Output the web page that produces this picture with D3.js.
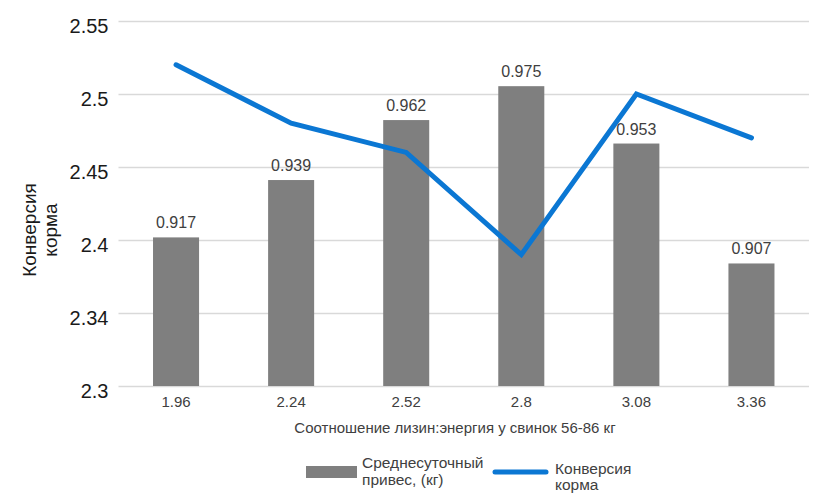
<!DOCTYPE html>
<html>
<head>
<meta charset="utf-8">
<script src="https://cdn.jsdelivr.net/npm/d3@7"></script>
<style>
    body { margin: 0; background: #fff; }
    text { font-family: "Liberation Sans", Arial, sans-serif; }
</style>
</head>
<body>
<svg id="chart"></svg>
<script>
// categories (lysine:energy ratio)
var categories = ["1.96", "2.24", "2.52", "2.8", "3.08", "3.36"];
// average daily gain, kg (bars, secondary scale)
var gainValues = [0.917, 0.939, 0.962, 0.975, 0.953, 0.907];
// feed conversion (line, primary scale)
var conversionValues = [2.52, 2.48, 2.46, 2.39, 2.5, 2.47];
// y ticks as printed on the chart
var yTickValues = [2.3, 2.35, 2.4, 2.45, 2.5, 2.55];
var yTickLabels = ["2.3", "2.34", "2.4", "2.45", "2.5", "2.55"];

var svgWidth = 820, svgHeight = 499;

var margin = { top: 21, bottom: 113, right: 11, left: 118.5 };
var width = svgWidth - margin.left - margin.right;
var height = svgHeight - margin.top - margin.bottom;

var svg = d3.select("#chart")
    .attr("width", svgWidth)
    .attr("height", svgHeight);

var g = svg.append("g")
    .attr("transform", "translate(" + margin.left + "," + margin.top + ")");

/*
    SCALES
*/
var xScale = d3.scaleBand()
    .domain(categories)
    .range([0, width])
    .paddingInner(0.6)
    .paddingOuter(0.3);

var yScale = d3.scaleLinear()
    .domain([2.3, 2.55])
    .range([height, 0]);

// hidden scale for the bars
var y2Scale = d3.scaleLinear()
    .domain([0.86, 1.0])
    .range([height, 0]);

/*
    GRID + AXES
*/
var yAxis = d3.axisLeft(yScale)
    .tickValues(yTickValues)
    .tickSize(-width)
    .tickPadding(10)
    .tickFormat(function(d, i) { return yTickLabels[i]; });

var yG = g.append("g").call(yAxis);
yG.select(".domain").remove();
yG.selectAll(".tick line")
    .attr("stroke", "#d9d9d9")
    .attr("stroke-width", 1.5);
yG.selectAll(".tick text")
    .attr("fill", "#1a1a1a")
    .attr("dy", "0.55em")
    .style("font-size", "20px");

var xAxis = d3.axisBottom(xScale)
    .tickSize(0);

var xG = g.append("g")
    .attr("transform", "translate(0," + height + ")")
    .call(xAxis);
xG.select(".domain").remove();
xG.selectAll(".tick text")
    .attr("y", 21)
    .attr("dy", 0)
    .attr("fill", "#404040")
    .style("font-size", "15px");

/*
    BARS
*/
g.selectAll(".bar")
    .data(gainValues)
    .enter().append("rect")
    .attr("class", "bar")
    .attr("x", function(d, i) { return xScale(categories[i]); })
    .attr("width", xScale.bandwidth())
    .attr("y", function(d) { return y2Scale(d); })
    .attr("height", function(d) { return height - y2Scale(d); })
    .attr("fill", "#7f7f7f");

g.selectAll(".bar-label")
    .data(gainValues)
    .enter().append("text")
    .attr("class", "bar-label")
    .attr("x", function(d, i) { return xScale(categories[i]) + xScale.bandwidth() / 2; })
    .attr("y", function(d) { return y2Scale(d) - 9; })
    .attr("text-anchor", "middle")
    .attr("fill", "#404040")
    .style("font-size", "16px")
    .text(function(d) { return d3.format(".3f")(d); });

/*
    LINE
*/
var line = d3.line()
    .x(function(d, i) { return xScale(categories[i]) + xScale.bandwidth() / 2; })
    .y(function(d) { return yScale(d); });

g.append("path")
    .datum(conversionValues)
    .attr("fill", "none")
    .attr("stroke", "#0b77d3")
    .attr("stroke-width", 5)
    .attr("stroke-linejoin", "miter")
    .attr("stroke-linecap", "round")
    .attr("d", line);

/*
    TITLES
*/
var yTitle = svg.append("text")
    .attr("transform", "translate(35.5,230) rotate(-90)")
    .attr("text-anchor", "middle")
    .attr("fill", "#1a1a1a")
    .style("font-size", "19px");
yTitle.append("tspan").attr("x", 0).attr("dy", 0).text("Конверсия");
yTitle.append("tspan").attr("x", 0).attr("dy", 21).text("корма");

svg.append("text")
    .attr("x", 455)
    .attr("y", 433)
    .attr("text-anchor", "middle")
    .attr("fill", "#404040")
    .style("font-size", "15px")
    .text("Соотношение лизин:энергия у свинок 56-86 кг");

/*
    LEGEND
*/
var legend = svg.append("g");

legend.append("rect")
    .attr("x", 306).attr("y", 466)
    .attr("width", 51).attr("height", 12)
    .attr("fill", "#7f7f7f");

var lt1 = legend.append("text")
    .attr("x", 362).attr("y", 468)
    .attr("fill", "#404040")
    .style("font-size", "15.5px");
lt1.append("tspan").attr("x", 362).text("Среднесуточный");
lt1.append("tspan").attr("x", 362).attr("dy", 17).text("привес, (кг)");

legend.append("line")
    .attr("x1", 495).attr("x2", 546)
    .attr("y1", 472).attr("y2", 472)
    .attr("stroke", "#0b77d3")
    .attr("stroke-width", 5)
    .attr("stroke-linecap", "round");

var lt2 = legend.append("text")
    .attr("x", 555).attr("y", 474)
    .attr("fill", "#404040")
    .style("font-size", "15.5px");
lt2.append("tspan").attr("x", 555).text("Конверсия");
lt2.append("tspan").attr("x", 555).attr("dy", 16).text("корма");
</script>
</body>
</html>
